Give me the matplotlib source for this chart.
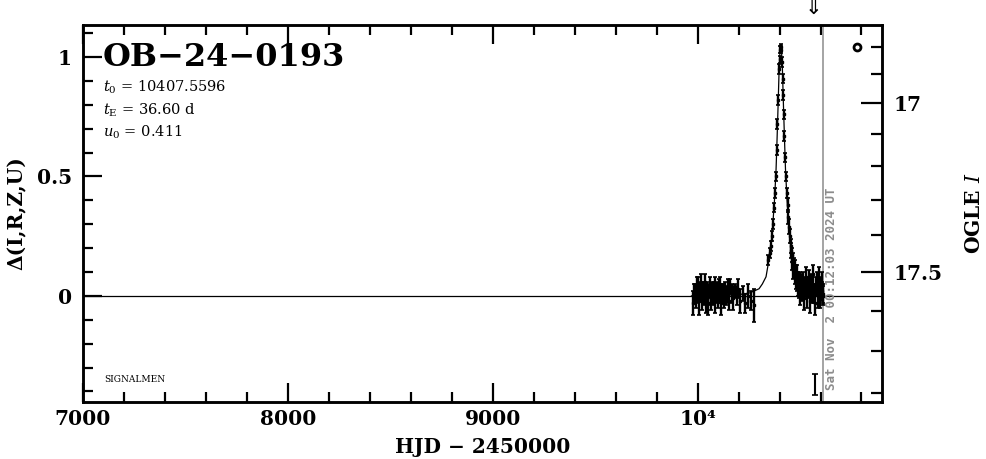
import numpy as np
import matplotlib
matplotlib.use("Agg")
import matplotlib.pyplot as plt
import matplotlib.transforms as mtransforms

plt.rcParams['font.family'] = ['DejaVu Serif', 'DejaVu Sans']
plt.rcParams['mathtext.fontset'] = 'dejavuserif'

# baseline season (2023)
base_t = [9978, 9984, 9989, 9993, 9997, 10001, 10004, 10008,
          10011, 10015, 10018, 10022, 10025, 10029, 10032, 10036,
          10039, 10043, 10046, 10050, 10053, 10057, 10060, 10064,
          10067, 10071, 10075, 10079, 10083, 10087, 10091, 10095,
          10099, 10103, 10107, 10111, 10116, 10121, 10126, 10131,
          10136, 10141, 10147, 10153, 10159, 10166, 10173, 10181,
          10190, 10199, 10209, 10220, 10232, 10246, 10262, 10274]
base_d = [-0.03, 0.01, 0.02, -0.01, 0.03, 0.00, 0.04, -0.02,
          0.02, 0.01, 0.05, -0.01, 0.03, 0.00, 0.02, 0.06,
          -0.02, 0.01, 0.03, 0.00, -0.03, 0.02, 0.04, 0.01,
          -0.01, 0.03, 0.00, 0.02, 0.05, -0.02, 0.01, 0.03,
          -0.01, 0.02, 0.00, 0.04, -0.03, 0.01, 0.02, -0.01,
          0.03, 0.00, 0.02, -0.02, 0.04, 0.01, -0.01, 0.02,
          0.00, 0.03, -0.02, 0.01, -0.03, 0.00, -0.02, -0.04]
base_e = [0.05, 0.04, 0.03, 0.04, 0.05, 0.03, 0.04, 0.06,
          0.04, 0.03, 0.04, 0.05, 0.03, 0.04, 0.04, 0.03,
          0.05, 0.04, 0.03, 0.04, 0.05, 0.03, 0.04, 0.04,
          0.05, 0.03, 0.04, 0.04, 0.03, 0.05, 0.04, 0.03,
          0.04, 0.05, 0.03, 0.04, 0.05, 0.04, 0.03, 0.04,
          0.03, 0.04, 0.05, 0.04, 0.03, 0.04, 0.05, 0.03,
          0.04, 0.04, 0.05, 0.03, 0.04, 0.05, 0.04, 0.07]

# event season (2024)
ev_t = [10346, 10352, 10357, 10362, 10367, 10372, 10377, 10381,
        10386, 10390, 10394, 10398, 10401, 10404, 10406, 10409,
        10412, 10415, 10418, 10421, 10424, 10427, 10431, 10435,
        10439, 10443, 10447, 10451, 10455, 10458, 10461, 10463,
        10466, 10468, 10471, 10473, 10476, 10478, 10481, 10483,
        10486, 10489, 10492, 10495, 10498, 10502, 10506, 10510,
        10514, 10518, 10522, 10527, 10532, 10537, 10542, 10547,
        10552, 10557, 10562, 10567, 10572, 10577, 10582, 10587,
        10591, 10595, 10599, 10602, 10605, 10608, 10611, 10613]
ev_d = [0.15, 0.18, 0.21, 0.25, 0.30, 0.37, 0.43, 0.50,
        0.61, 0.72, 0.82, 0.95, 0.99, 1.03, 1.04, 1.03,
        0.98, 0.91, 0.84, 0.76, 0.67, 0.58, 0.50, 0.43,
        0.38, 0.33, 0.29, 0.25, 0.21, 0.19, 0.17, 0.14,
        0.15, 0.11, 0.13, 0.09, 0.12, 0.07, 0.10, 0.06,
        0.09, 0.04, 0.07, 0.03, 0.06, 0.01, 0.05, 0.02,
        0.06, -0.01, 0.04, 0.08, 0.00, 0.03, 0.07, -0.02,
        0.05, 0.02, 0.09, 0.01, -0.03, 0.04, 0.06, 0.00,
        0.03, 0.07, -0.01, 0.04, 0.02, 0.05, 0.00, 0.01]
ev_e = [0.02, 0.02, 0.02, 0.02, 0.02, 0.02, 0.02, 0.02,
        0.02, 0.02, 0.02, 0.02, 0.015, 0.015, 0.015, 0.015,
        0.02, 0.02, 0.02, 0.02, 0.02, 0.02, 0.02, 0.02,
        0.03, 0.03, 0.03, 0.03, 0.03, 0.03, 0.03, 0.03,
        0.03, 0.04, 0.03, 0.04, 0.03, 0.04, 0.03, 0.04,
        0.04, 0.04, 0.03, 0.04, 0.04, 0.05, 0.04, 0.04,
        0.04, 0.05, 0.04, 0.04, 0.05, 0.04, 0.04, 0.05,
        0.04, 0.05, 0.04, 0.04, 0.05, 0.04, 0.04, 0.05,
        0.04, 0.05, 0.04, 0.04, 0.04, 0.05, 0.04, 0.04]

# model curve
curve_t = [9970, 10106, 10206, 10256, 10300, 10316, 10334, 10344, 10350, 10360,
           10368, 10376, 10383, 10388, 10393, 10398, 10402, 10406, 10410, 10414,
           10419, 10424, 10429, 10436, 10444, 10452, 10462, 10468, 10478, 10496,
           10512, 10556, 10610]
curve_d = [0.0, 0.002, 0.006, 0.013, 0.03, 0.05, 0.08, 0.13, 0.17, 0.23,
           0.31, 0.41, 0.53, 0.66, 0.80, 0.95, 1.02, 1.05, 1.02, 0.95,
           0.80, 0.66, 0.53, 0.41, 0.31, 0.23, 0.17, 0.13, 0.08, 0.05,
           0.03, 0.013, 0.004]

# typical error bar
err_t = [10571]
err_d = [-0.37]
err_e = [0.045]

mag_major = [17.0, 17.5]
mag_minor = [16.8, 16.9, 17.1, 17.2, 17.3, 17.4, 17.6, 17.7, 17.8]
xtick_vals = [7000, 8000, 9000, 10000]
xtick_labels = ['7000', '8000', '9000', '10\u2074']

now_hjd = 10610
arrow_hjd = 10563


def mag_to_delta(m):
    d = np.asarray(m) - 17.5
    return 0.1 - 1.585 * d - 0.341 * d ** 2


fig = plt.figure(figsize=(9.86, 4.59), dpi=100)
ax = fig.add_axes([0.0842, 0.1242, 0.8103, 0.8213])
ax.set_xlim(7000, 10900)
ax.set_ylim(-0.444, 1.134)

ax.axhline(0, color='black', lw=0.9)
ax.axvline(now_hjd, color='#8c8c8c', lw=1.1)
ax.plot(curve_t, curve_d, color='black', lw=0.9)

kw = dict(fmt='s', ms=2, color='black', ecolor='black', elinewidth=1.7,
          capsize=1.5, capthick=1.2)
ax.errorbar(base_t, base_d, yerr=base_e, **kw)
ax.errorbar(ev_t, ev_d, yerr=ev_e, **kw)
ax.errorbar(err_t, err_d, yerr=err_e, fmt='none', ecolor='black',
            elinewidth=1.5, capsize=2, capthick=1.2)

ax.plot([10780], [1.04], 'o', ms=5, mfc='white', mec='black', mew=2)

# ticks
bold = dict(fontsize=14.5, fontweight='bold')
ax.set_xticks(xtick_vals)
ax.set_xticklabels(xtick_labels, **bold)
ax.set_xticks(np.arange(7000, 10901, 200), minor=True)
ax.set_yticks([0, 0.5, 1])
ax.set_yticklabels(['0', '0.5', '1'], **bold)
ax.set_yticks(np.arange(-0.4, 1.11, 0.1), minor=True)
ax.tick_params(axis='x', which='both', direction='in', top=True, bottom=True, width=1.6)
ax.tick_params(axis='y', which='both', direction='in', left=True, right=False, width=1.6)
ax.tick_params(which='major', length=14)
ax.tick_params(axis='x', which='major', pad=5)
ax.tick_params(axis='y', which='major', pad=8)
ax.tick_params(which='minor', length=7)
for s in ax.spines.values():
    s.set_linewidth(1.8)

ax2 = ax.twinx()
ax2.set_ylim(ax.get_ylim())
ax2.set_yticks(mag_to_delta(mag_major))
ax2.set_yticklabels(['17', '17.5'], **bold)
ax2.set_yticks(mag_to_delta(mag_minor), minor=True)
ax2.tick_params(axis='y', which='both', direction='in', width=1.6)
ax2.tick_params(which='major', length=15, pad=8)
ax2.tick_params(which='minor', length=8)
for s in ax2.spines.values():
    s.set_linewidth(1.8)

ax.set_xlabel('HJD \u2212 2450000', fontsize=14.5, fontweight='bold', labelpad=6)
ax.set_ylabel('\u0394(I,R,Z,U)', fontsize=14.5, fontweight='bold', labelpad=7)
ax2.set_ylabel(r'OGLE $\mathit{I}$', fontsize=14.5, fontweight='bold', labelpad=16)

# annotations
ax.text(0.025, 0.915, 'OB\u221224\u22120193', transform=ax.transAxes,
        fontsize=23, fontweight='bold', va='center', ha='left')
ax.text(0.025, 0.836, r'$t_0$ = 10407.5596', transform=ax.transAxes,
        fontsize=10.5, va='center')
ax.text(0.025, 0.775, r'$t_{\rm E}$ = 36.60 d', transform=ax.transAxes,
        fontsize=10.5, va='center')
ax.text(0.025, 0.716, r'$u_0$ = 0.411', transform=ax.transAxes,
        fontsize=10.5, va='center')
ax.text(0.026, 0.059, 'SIGNALMEN', transform=ax.transAxes,
        fontsize=6.5, va='center')
ax.text(10656, -0.393, 'Sat Nov  2 00:12:03 2024 UT', rotation=90,
        ha='center', va='bottom', color='#8c8c8c', fontsize=9,
        fontweight='bold', family='DejaVu Sans Mono')

trans = mtransforms.blended_transform_factory(ax.transData, ax.transAxes)
ax.text(arrow_hjd, 1.045, '\u21d3', transform=trans, ha='center', va='center',
        fontsize=15, family='DejaVu Sans', clip_on=False)

fig.savefig('out.png', dpi=100)
